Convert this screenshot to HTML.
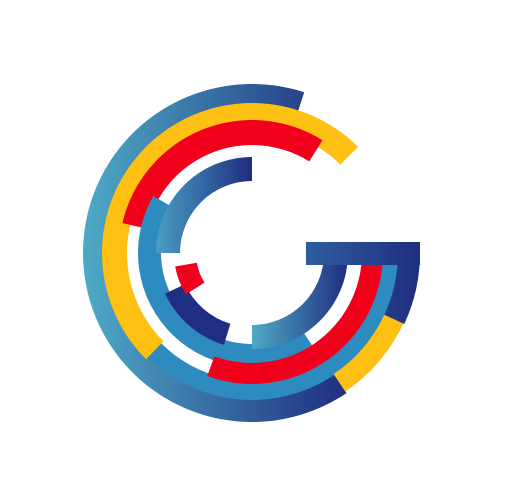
<!DOCTYPE html>
<html><head><meta charset="utf-8"><style>html,body{margin:0;padding:0;background:#fff}svg{display:block}</style></head>
<body>
<svg id="logo" width="509" height="503" viewBox="0 0 509 503" xmlns="http://www.w3.org/2000/svg">
<defs>
<linearGradient id="gOuter" gradientUnits="userSpaceOnUse" x1="83" y1="0" x2="350" y2="0"><stop offset="0" stop-color="#4eaac6"/><stop offset="1" stop-color="#1f2d7f"/></linearGradient>
<linearGradient id="gTop" gradientUnits="userSpaceOnUse" x1="155" y1="0" x2="252" y2="0"><stop offset="0" stop-color="#4a9fc4"/><stop offset="1" stop-color="#1f2d7f"/></linearGradient>
<linearGradient id="gInner" gradientUnits="userSpaceOnUse" x1="252" y1="0" x2="348" y2="0"><stop offset="0" stop-color="#4eaac6"/><stop offset="1" stop-color="#1f2d7f"/></linearGradient>
<linearGradient id="gBar" gradientUnits="userSpaceOnUse" x1="306" y1="0" x2="420" y2="0"><stop offset="0" stop-color="#2f5ea0"/><stop offset="1" stop-color="#1f2d7f"/></linearGradient>
</defs>
<g id="arcs"></g>
</svg>
<script>
const CX = 252, CY = 253;
const arcNames = ['outer-blue-arc','light-blue-arc','yellow-main-arc','yellow-right-arc','dark-right-arc','red-top-arc','medium-blue-arc','red-bottom-arc','inner-top-arc','inner-right-arc','navy-arc','red-block'];
const innerR = [143,128,125,146,146,108,91,110,72,72,74,56];
const outerR = [169,147,150,167,168,133,114,131,96,96,96,78];
const startDeg = [56,3,135,24,0,193,57,0,180,0,107,148];
const endDeg = [288,140,315,56,25,302,210,110,270,90,155,170];
const fills = ['url(#gOuter)','#2e8bc0','#fec013','#fec013','url(#gBar)','#f0001a','#2e8bc0','#f0001a','url(#gTop)','url(#gInner)','#1f2e82','#f0001a'];
function pt(r,a){const t=a*Math.PI/180;return [CX+r*Math.cos(t),CY+r*Math.sin(t)];}
function sector(r0,r1,a0,a1){
  const large=(a1-a0)>180?1:0;
  const [x1,y1]=pt(r1,a0),[x2,y2]=pt(r1,a1),[x3,y3]=pt(r0,a1),[x4,y4]=pt(r0,a0);
  return `M${x1},${y1}A${r1},${r1} 0 ${large} 1 ${x2},${y2}L${x3},${y3}A${r0},${r0} 0 ${large} 0 ${x4},${y4}Z`;
}
const g=document.getElementById('arcs');
const ns='http://www.w3.org/2000/svg';
for(let i=0;i<arcNames.length;i++){
  const p=document.createElementNS(ns,'path');
  p.setAttribute('d',sector(innerR[i],outerR[i],startDeg[i],endDeg[i]));
  p.setAttribute('fill',fills[i]);
  
  
  g.appendChild(p);
}
const b=document.createElementNS(ns,'rect');
b.setAttribute('x',306);b.setAttribute('y',242);b.setAttribute('width',114);b.setAttribute('height',23);
b.setAttribute('fill','url(#gBar)');


g.appendChild(b);
</script>
</body></html>
